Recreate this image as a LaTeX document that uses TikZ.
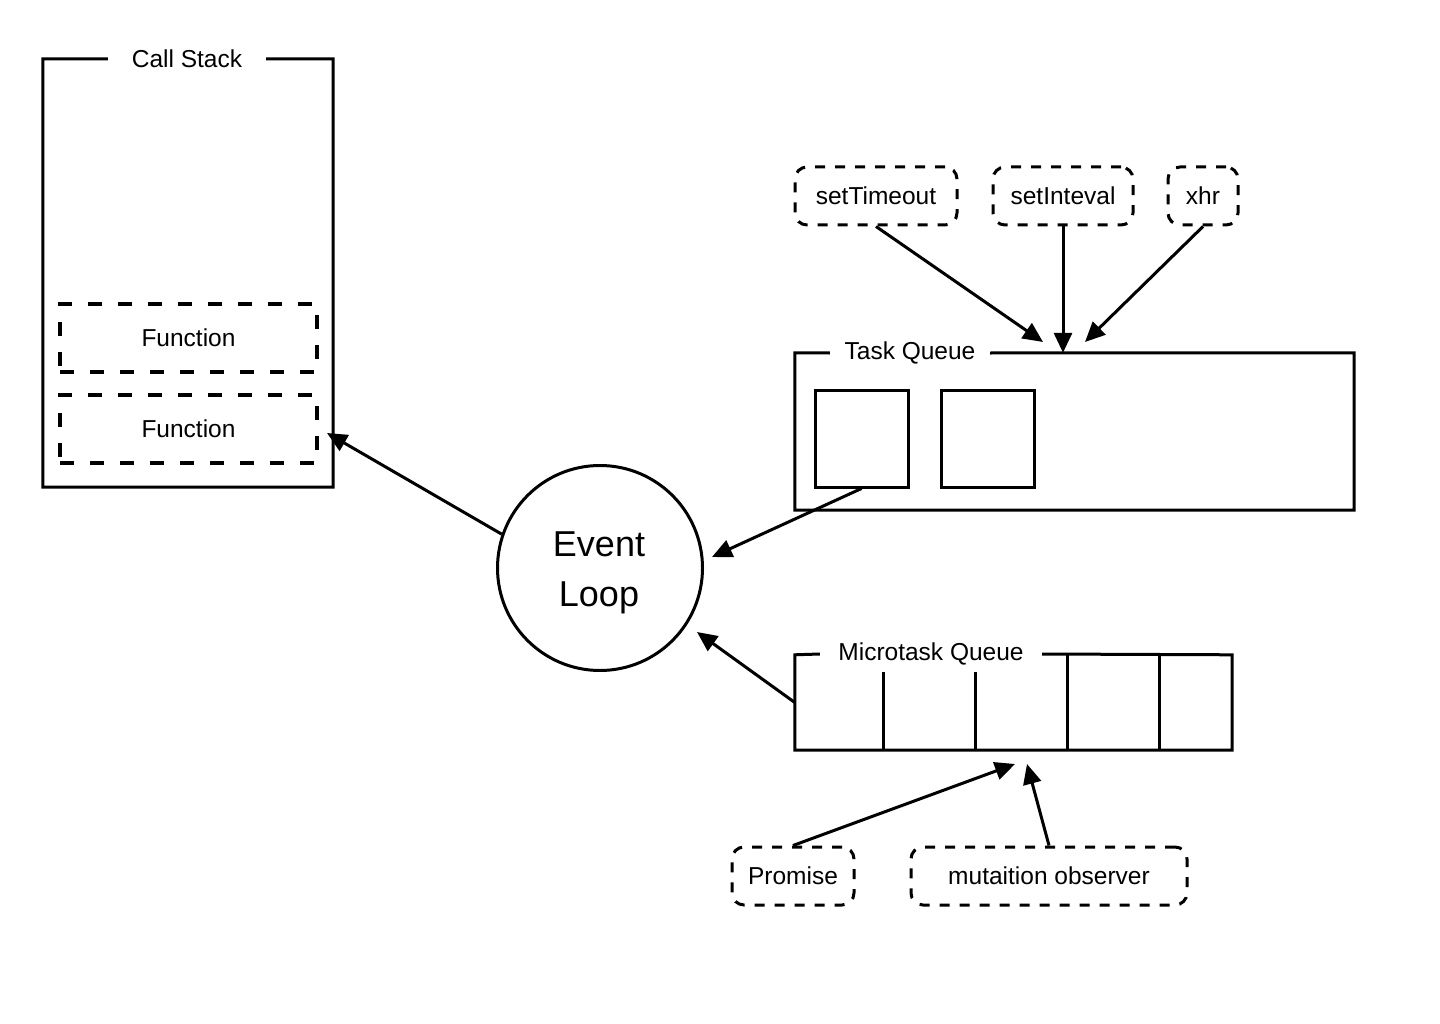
\documentclass[tikz,border=0pt]{standalone}
\usepackage{fontspec}
\setmainfont{Liberation Sans}
\usetikzlibrary{arrows.meta}
\tikzset{
  base/.style={line width=3pt},
  fnbox/.style={draw, line width=3.2pt, dash pattern=on 14pt off 16pt, minimum width=257pt, minimum height=68pt, inner sep=0pt},
  srcbox/.style={draw, line width=3pt, dash pattern=on 10pt off 10pt, rounded corners=12pt, minimum height=58pt, inner sep=0pt},
  area/.style={draw=none, inner sep=0pt},
  cell/.style={draw, line width=3pt, minimum width=93pt, minimum height=97pt, inner sep=0pt},
  lbl/.style={inner sep=0pt, minimum height=20pt},
  arr/.style={line width=3pt, -{Triangle[length=20pt,width=18pt]}},
  txt/.style={font=\fontsize{24.5}{28}\selectfont}
}
\begin{document}
\begin{tikzpicture}[x=1pt,y=-1pt, every node/.style={txt}]
\useasboundingbox[fill=white] (0,0) rectangle (1440,1024);

% Call stack
\node[area, minimum width=290pt, minimum height=428pt] (cs) at (188,273) {};
\node[lbl, minimum width=158pt] (cslbl) at (187,59) {Call Stack};
\draw[base] (cslbl.east) -- (cs.north east) -- (cs.south east) -- (cs.south west) -- (cs.north west) -- (cslbl.west);
\node[fnbox] (f1) at (188.5,338) {Function};
\node[fnbox] (f2) at (188.5,429) {Function};

% Event loop
\node[circle, draw, line width=3pt, minimum size=205pt, inner sep=0pt, align=center,
      font=\fontsize{36}{50}\selectfont] (el) at (600,568) {};
\node[align=center, font=\fontsize{36}{50}\selectfont, inner sep=0pt] (elt) at (599,573) {Event\\Loop};

% Task queue
\node[area, minimum width=559pt, minimum height=157pt] (tq) at (1074.5,431.5) {};
\node[lbl, minimum width=160pt] (tqlbl) at (910,353) {Task Queue};
\draw[base] (tqlbl.east) -- (tq.north east) -- (tq.south east) -- (tq.south west) -- (tq.north west) -- (tqlbl.west);
\node[cell] (s1) at (861.5,438.5) {};
\node[cell] (s2) at (987.5,438.5) {};

% Sources of tasks
\node[srcbox, minimum width=162pt] (st) at (876,196) {setTimeout};
\node[srcbox, minimum width=140pt] (si) at (1063,196) {setInteval};
\node[srcbox, minimum width=70pt] (xh) at (1203,196) {xhr};

% Microtask queue
\node[area, minimum width=437pt, minimum height=95pt] (mq) at (1013.5,702.5) {};
\node[lbl, minimum width=222pt] (mqlbl) at (931,654) {Microtask Queue};
\draw[base] (mqlbl.east) -- (mq.north east) -- (mq.south east) -- (mq.south west) -- (mq.north west) -- (mqlbl.west);
\draw[base] (883,672) -- (883,750);
\draw[base] (975,672) -- (975,750);
\draw[base] (1067,655) -- (1067,750);
\draw[base] (1159,655) -- (1159,750);

% Sources of microtasks
\node[srcbox, minimum width=122pt] (pr) at (793,876) {Promise};
\node[srcbox, minimum width=276pt] (mo) at (1049,876) {mutaition observer};

% Arrow tips
\coordinate (tCS) at (327,433);
\coordinate (tEL1) at (712,557);
\coordinate (tEL2) at (697,632);
\coordinate (tT1) at (1043,342);
\coordinate (tT3) at (1085,342);
\coordinate (tM1) at (1015,764);
\coordinate (tM2) at (1027,764);

% Connectors
\draw[arr] (el.161) -- (tCS);
\draw[arr] (s1.south) -- (tEL1);
\draw[arr] (mq.west) -- (tEL2);
\draw[arr] (st.south) -- (tT1);
\draw[arr] (si.south) -- (si.south |- tq.north);
\draw[arr] (xh.south) -- (tT3);
\draw[arr] (pr.north) -- (tM1);
\draw[arr] (mo.north) -- (tM2);
\end{tikzpicture}
\end{document}
